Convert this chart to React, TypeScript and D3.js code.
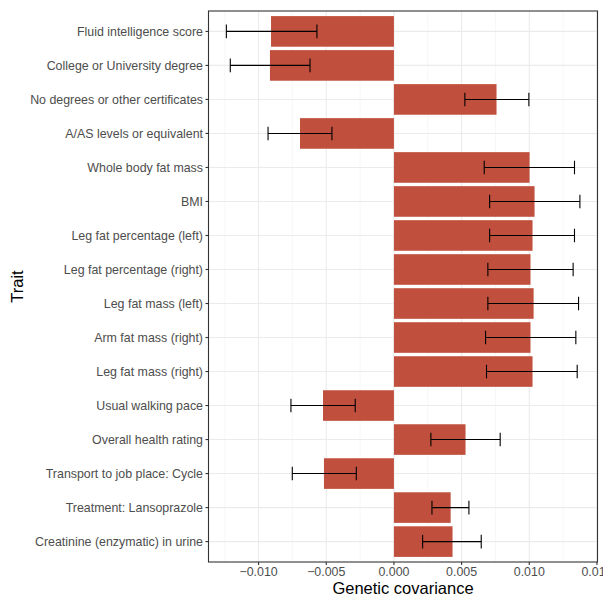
import React from "react";
import * as d3 from "d3";

const traits = [
  "Fluid intelligence score",
  "College or University degree",
  "No degrees or other certificates",
  "A/AS levels or equivalent",
  "Whole body fat mass",
  "BMI",
  "Leg fat percentage (left)",
  "Leg fat percentage (right)",
  "Leg fat mass (left)",
  "Arm fat mass (right)",
  "Leg fat mass (right)",
  "Usual walking pace",
  "Overall health rating",
  "Transport to job place: Cycle",
  "Treatment: Lansoprazole",
  "Creatinine (enzymatic) in urine",
];
const covariance = [
  -0.00908, -0.00916, 0.00758, -0.00694, 0.01002, 0.01039, 0.01024, 0.01009,
  0.01032, 0.01009, 0.01024, -0.00524, 0.00529, -0.00517, 0.00419, 0.00433,
];
const lower = [
  -0.01238, -0.01209, 0.00524, -0.0093, 0.00667, 0.00707, 0.00707, 0.00694,
  0.00694, 0.00677, 0.00684, -0.00761, 0.00273, -0.00751, 0.00281, 0.00212,
];
const upper = [
  -0.00569, -0.0062, 0.00997, -0.00458, 0.01334, 0.01374, 0.01334, 0.01324,
  0.01364, 0.01344, 0.01354, -0.00286, 0.00785, -0.00278, 0.00554, 0.00645,
];
const xTicks = [-0.01, -0.005, 0, 0.005, 0.01, 0.015];
const xTickLabels = ["\u22120.010", "\u22120.005", "0.000", "0.005", "0.010", "0.015"];
const xMinor = [-0.0125, -0.0075, -0.0025, 0.0025, 0.0075, 0.0125];

const W = 603;
const H = 596;
const left = 208.5;
const right = 597.5;
const top = 11;
const bottom = 562;

export default function App() {
  const x = d3.scaleLinear().domain([-0.0137, 0.01504]).range([left, right]);
  const n = traits.length;
  const step = (bottom - top) / (n + 0.2);
  const yc = (i: number) => top + step * (0.6 + i);
  const bh = step * 0.9;
  const cap = step * 0.4;
  const font = "Liberation Sans, Arial, Helvetica, sans-serif";
  return (
    <svg width={W} height={H} style={{ position: "absolute", left: 0, top: 0 }} fontFamily={font}>
      <rect x={0} y={0} width={W} height={H} fill="#fff" />
      <clipPath id="panel">
        <rect x={left} y={top} width={right - left} height={bottom - top} />
      </clipPath>
      <g clipPath="url(#panel)">
        {xMinor.map((v, i) => (
          <line key={"mn" + i} x1={x(v)} x2={x(v)} y1={top} y2={bottom} stroke="#F2F2F2" strokeWidth={0.6} />
        ))}
        {xTicks.map((v, i) => (
          <line key={"mj" + i} x1={x(v)} x2={x(v)} y1={top} y2={bottom} stroke="#EBEBEB" strokeWidth={1.1} />
        ))}
        {traits.map((t, i) => (
          <line key={"hy" + i} x1={left} x2={right} y1={yc(i)} y2={yc(i)} stroke="#EBEBEB" strokeWidth={1.1} />
        ))}
        {covariance.map((v, i) => (
          <rect
            key={"b" + i}
            x={Math.min(x(0), x(v))}
            y={yc(i) - bh / 2}
            width={Math.abs(x(v) - x(0))}
            height={bh}
            fill="#C0503D"
          />
        ))}
        {traits.map((t, i) => (
          <g key={"e" + i} stroke="#000" strokeWidth={1.1}>
            <line x1={x(lower[i])} x2={x(upper[i])} y1={yc(i)} y2={yc(i)} />
            <line x1={x(lower[i])} x2={x(lower[i])} y1={yc(i) - cap / 2} y2={yc(i) + cap / 2} />
            <line x1={x(upper[i])} x2={x(upper[i])} y1={yc(i) - cap / 2} y2={yc(i) + cap / 2} />
          </g>
        ))}
      </g>
      <rect x={left} y={top} width={right - left} height={bottom - top} fill="none" stroke="#333" strokeWidth={1.1} />
      {traits.map((t, i) => (
        <g key={"yl" + i}>
          <line x1={left - 3} x2={left} y1={yc(i)} y2={yc(i)} stroke="#333" strokeWidth={1.1} />
          <text x={left - 5.5} y={yc(i)} dy="0.35em" textAnchor="end" fontSize={12.4} fill="#4D4D4D">
            {t}
          </text>
        </g>
      ))}
      {xTicks.map((v, i) => (
        <g key={"xl" + i}>
          <line x1={x(v)} x2={x(v)} y1={bottom} y2={bottom + 3} stroke="#333" strokeWidth={1.1} />
          <text x={x(v)} y={bottom + 14} textAnchor="middle" fontSize={12.4} fill="#4D4D4D">
            {xTickLabels[i]}
          </text>
        </g>
      ))}
      <text x={(left + right) / 2} y={593.5} textAnchor="middle" fontSize={16.5} fill="#000">
        Genetic covariance
      </text>
      <text transform={`translate(23,${(top + bottom) / 2}) rotate(-90)`} textAnchor="middle" fontSize={16.5} fill="#000">
        Trait
      </text>
    </svg>
  );
}
